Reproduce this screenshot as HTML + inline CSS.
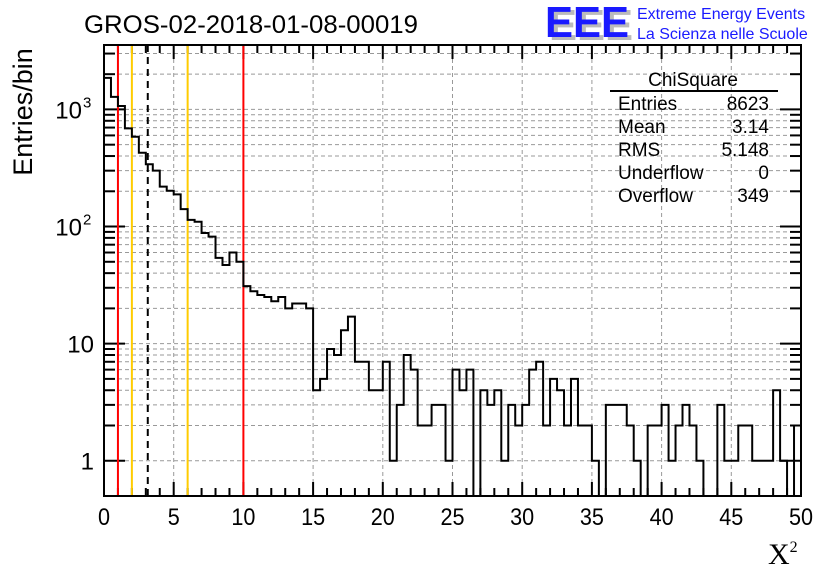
<!DOCTYPE html>
<html><head><meta charset="utf-8"><style>
body{margin:0;background:#fff;}
svg{display:block;font-family:"Liberation Sans",sans-serif;}
</style></head><body>
<svg id="chart" width="836" height="572" viewBox="0 0 836 572" xmlns="http://www.w3.org/2000/svg">
<rect width="836" height="572" fill="#fff"/>
<text x="84" y="33" font-size="25" textLength="334" lengthAdjust="spacingAndGlyphs">GROS-02-2018-01-08-00019</text>
<g>
<text x="549" y="40" font-size="44" font-weight="bold" fill="#bbb" textLength="84" lengthAdjust="spacingAndGlyphs">EEE</text>
<text x="545" y="37" font-size="44" font-weight="bold" fill="#1a1aff" textLength="84" lengthAdjust="spacingAndGlyphs">EEE</text>
<text x="637" y="19" font-size="16" fill="#1a1aff">Extreme Energy Events</text>
<text x="637" y="39" font-size="16" fill="#1a1aff">La Scienza nelle Scuole</text>
</g>
<g id="grid"></g>
<g id="ticks"></g>
<g id="lines"></g>
<path id="hist" fill="none" stroke="#000" stroke-width="2"/>
<rect x="104" y="45" width="697" height="451" fill="none" stroke="#000" stroke-width="2"/>
<g id="labels"></g>
<text transform="translate(32,112) rotate(-90)" font-size="27" text-anchor="middle">Entries/bin</text>
<text x="768" y="564" font-size="30" font-family="Liberation Serif,serif">X<tspan dy="-12" font-size="16">2</tspan></text>
<g font-size="19">
<text x="693" y="86" text-anchor="middle">ChiSquare</text>
<line x1="610" y1="91" x2="778" y2="91" stroke="#000" stroke-width="2"/>
<text x="618" y="110">Entries</text><text x="769" y="110" text-anchor="end">8623</text>
<text x="618" y="133">Mean</text><text x="769" y="133" text-anchor="end">3.14</text>
<text x="618" y="156">RMS</text><text x="769" y="156" text-anchor="end">5.148</text>
<text x="618" y="179">Underflow</text><text x="769" y="179" text-anchor="end">0</text>
<text x="618" y="202">Overflow</text><text x="769" y="202" text-anchor="end">349</text>
</g>
</svg>
<script>
const binWidth = 0.5;
const counts = [1860,1280,1070,689,584,427,340,300,219,202,
188,141,114,110,88,82,54,47,60,50,
31,28,26,25,23,25,20,22,22,20,
4,5,9,8,13,17,7,7,4,4,
7,1,3,8,6,2,2,3,3,1,
6,4,6,0,4,3,4,1,3,2,
3,6,7,2,5,4,2,5,2,2,
1,0,3,3,3,2,1,0,2,2,
3,1,2,3,2,1,0,0,3,1,
1,2,2,1,1,1,4,1,0,2];
const xTicks = [0,5,10,15,20,25,30,35,40,45,50];
const yTicks = [1,10,100,1000];
const yTickLabels = ["1","10","10","10"];
const yTickExps = ["","","2","3"];
const refLinesRed = [1,10];
const refLinesYellow = [2,6];
const meanValue = 3.14;

const X0=104,X1=801,Y0=496,Y1=45,XMIN=0,XMAX=50,LMIN=Math.log10(0.5),LMAX=Math.log10(3550);
const xs=v=>X0+(v-XMIN)/(XMAX-XMIN)*(X1-X0);
const ys=v=>Y0-(Math.log10(v)-LMIN)/(LMAX-LMIN)*(Y0-Y1);
const NS="http://www.w3.org/2000/svg";
function mk(tag,parent,attrs){const e=document.createElementNS(NS,tag);for(const k in attrs)e.setAttribute(k,attrs[k]);document.getElementById(parent).appendChild(e);return e;}

for(const t of xTicks){ if(t===XMIN||t===XMAX) continue;
  const g=mk('line','grid',{x1:xs(t),x2:xs(t),y1:Y1,y2:Y0,stroke:'#999','stroke-dasharray':'4,3','stroke-width':1});
  
  
}
for(let d=0;d<=3;d++){for(let m=1;m<=9;m++){const v=m*Math.pow(10,d);if(v>3550)break;
  const y=ys(v);
  const g=mk('line','grid',{x1:X0,x2:X1,y1:y,y2:y,stroke:'#999','stroke-dasharray':'4,3','stroke-width':1});
  
  
  const major=(m===1);const L=major?21:11;
  const t1=mk('line','ticks',{x1:X0,x2:X0+L,y1:y,y2:y,stroke:'#000','stroke-width':2});
  
  
  const t2=mk('line','ticks',{x1:X1,x2:X1-L,y1:y,y2:y,stroke:'#000','stroke-width':2});
  
  
}}
for(let v=XMIN;v<=XMAX;v++){const major=(v%5===0);const L=major?14:8;const x=xs(v);
  const a=mk('line','ticks',{x1:x,x2:x,y1:Y0,y2:Y0-L,stroke:'#000','stroke-width':2});
  
  
  const b=mk('line','ticks',{x1:x,x2:x,y1:Y1,y2:Y1+L,stroke:'#000','stroke-width':2});
  
  
}
xTicks.forEach(t=>{const e=mk('text','labels',{x:xs(t),y:525,'font-size':24,'text-anchor':'middle',transform:'translate('+xs(t)+',0) scale(0.9,1) translate('+(-xs(t))+',0)'});e.textContent=String(t);
  
  });
yTicks.forEach((t,i)=>{const y=ys(t);
  const e=mk('text','labels',{x:yTickExps[i]?82:94,y:y+9,'font-size':24,'text-anchor':'end'});
  e.textContent=yTickLabels[i];
  
  
  if(yTickExps[i]){const s=mk('text','labels',{x:83,y:y-2,'font-size':15});s.textContent=yTickExps[i];
    
    }
});
refLinesRed.forEach(v=>{const l=mk('line','lines',{x1:xs(v),x2:xs(v),y1:Y1,y2:Y0,stroke:'#ff0000','stroke-width':2});
  
  });
refLinesYellow.forEach(v=>{const l=mk('line','lines',{x1:xs(v),x2:xs(v),y1:Y1,y2:Y0,stroke:'#ffcc00','stroke-width':2});
  
  });
{const l=mk('line','lines',{x1:xs(meanValue),x2:xs(meanValue),y1:Y1,y2:Y0,stroke:'#000','stroke-width':2,'stroke-dasharray':'7,5'});
  
  }
const yv=c=>c>0?ys(c):Y0;
let d='M'+xs(0)+','+Y0;
counts.forEach((c,i)=>{const xa=xs(i*binWidth),xb=xs((i+1)*binWidth);d+=' L'+xa+','+yv(c)+' L'+xb+','+yv(c);});
d+=' L'+xs(counts.length*binWidth)+','+Y0;
document.getElementById('hist').setAttribute('d',d);
</script>
</body></html>
